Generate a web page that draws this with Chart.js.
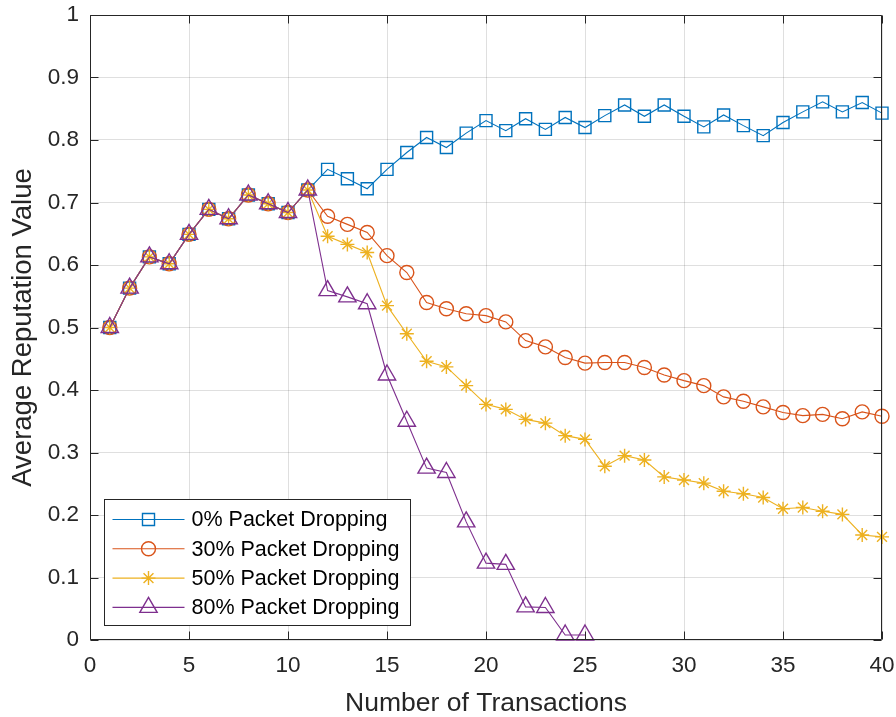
<!DOCTYPE html>
<html>
<head>
<meta charset="utf-8">
<script src="https://cdn.jsdelivr.net/npm/chart.js@4.4.1/dist/chart.umd.min.js"></script>
<style>
  html, body { margin: 0; padding: 0; background: #fff; }
  canvas { display: block; }
</style>
</head>
<body>
<canvas id="repChart" width="896" height="717"></canvas>
<script>
// Average reputation vs number of transactions, per packet dropping rate

let transactions = [];
for (let i = 1; i <= 40; i++) transactions.push(i);

let seriesNames = ["0% Packet Dropping", "30% Packet Dropping", "50% Packet Dropping", "80% Packet Dropping"];

let drop0 = [0.500, 0.563, 0.613, 0.602, 0.649, 0.689, 0.674, 0.712, 0.698, 0.684,
             0.720, 0.753, 0.738, 0.722, 0.753, 0.780, 0.804, 0.788, 0.811, 0.831,
             0.815, 0.834, 0.817, 0.836, 0.820, 0.839, 0.856, 0.838, 0.856, 0.838,
             0.821, 0.840, 0.823, 0.807, 0.828, 0.845, 0.861, 0.845, 0.860, 0.843];

let drop30 = [0.500, 0.563, 0.613, 0.602, 0.649, 0.689, 0.674, 0.712, 0.698, 0.684,
              0.720, 0.678, 0.665, 0.652, 0.615, 0.588, 0.540, 0.530, 0.522, 0.519,
              0.509, 0.479, 0.469, 0.452, 0.443, 0.444, 0.444, 0.436, 0.424, 0.415,
              0.407, 0.389, 0.382, 0.373, 0.364, 0.359, 0.361, 0.354, 0.365, 0.358];

let drop50 = [0.500, 0.563, 0.613, 0.602, 0.649, 0.689, 0.674, 0.712, 0.698, 0.684,
              0.720, 0.646, 0.633, 0.620, 0.535, 0.490, 0.446, 0.437, 0.407, 0.377,
              0.369, 0.353, 0.347, 0.327, 0.321, 0.278, 0.295, 0.288, 0.261, 0.256,
              0.251, 0.238, 0.234, 0.228, 0.210, 0.212, 0.206, 0.201, 0.168, 0.165];

let drop80 = [0.500, 0.563, 0.613, 0.602, 0.649, 0.689, 0.674, 0.712, 0.698, 0.684,
              0.720, 0.559, 0.549, 0.538, 0.424, 0.350, 0.275, 0.268, 0.189, 0.123,
              0.121, 0.053, 0.052, 0.008, 0.008];

let xTicks = [0, 5, 10, 15, 20, 25, 30, 35, 40];
let yTicks = [0, 0.1, 0.2, 0.3, 0.4, 0.5, 0.6, 0.7, 0.8, 0.9, 1];

// matlab default colour order
let colors = ["#0072BD", "#D95319", "#EDB120", "#7E2F8E"];
let markers = ["rect", "circle", "star", "triangle"];
let markerSizes = [8.5, 7, 7, 10];

const axisColor = "#262626";
const fontFam = "'Liberation Sans', Arial, Helvetica, sans-serif";

function toPoints(ys) {
    return ys.map((y, i) => ({ x: transactions[i], y: y }));
}

let allSeries = [drop0, drop30, drop50, drop80];

let datasets = allSeries.map((ys, i) => ({
    label: seriesNames[i],
    data: toPoints(ys),
    borderColor: colors[i],
    backgroundColor: "transparent",
    borderWidth: 1.1,
    pointStyle: markers[i],
    pointRadius: markerSizes[i],
    pointBorderWidth: 1.4,
    pointBorderColor: colors[i],
    pointBackgroundColor: "transparent",
    tension: 0,
    clip: false,
    order: 3 - i
}));

// box around the axes with inward ticks, and the legend inside the plot
const matlabAxes = {
    id: "matlabAxes",
    afterDraw(chart) {
        const ctx = chart.ctx;
        const a = chart.chartArea;
        const xs = chart.scales.x, ys = chart.scales.y;
        const L = Math.round(a.left) + 0.5, R = Math.round(a.right) - 0.5;
        const T = Math.round(a.top) + 0.5, B = Math.round(a.bottom) - 0.5;
        const tl = 8;
        ctx.save();
        ctx.strokeStyle = axisColor;
        ctx.lineWidth = 1;
        ctx.beginPath();
        ctx.rect(L, T, R - L, B - T);
        xTicks.forEach(v => {
            const px = Math.round(xs.getPixelForValue(v)) + 0.5;
            ctx.moveTo(px, B); ctx.lineTo(px, B - tl);
            ctx.moveTo(px, T); ctx.lineTo(px, T + tl);
        });
        yTicks.forEach(v => {
            const py = Math.round(ys.getPixelForValue(v)) + 0.5;
            ctx.moveTo(L, py); ctx.lineTo(L + tl, py);
            ctx.moveTo(R, py); ctx.lineTo(R - tl, py);
        });
        ctx.stroke();

        // legend
        const bx = L + 14, bw = 306, bh = 126;
        const by = B - 14 - bh;
        ctx.fillStyle = "#fff";
        ctx.fillRect(bx, by, bw, bh);
        ctx.strokeRect(bx, by, bw, bh);
        ctx.font = "21.5px " + fontFam;
        ctx.textBaseline = "middle";
        ctx.textAlign = "left";
        seriesNames.forEach((name, i) => {
            const ry = by + 20 + i * 29.3;
            ctx.strokeStyle = colors[i];
            ctx.lineWidth = 1.1;
            ctx.beginPath();
            ctx.moveTo(bx + 8, ry);
            ctx.lineTo(bx + 80, ry);
            ctx.stroke();
            ctx.lineWidth = 1.4;
            ctx.fillStyle = "rgba(0,0,0,0)";
            Chart.helpers.drawPoint(ctx, {
                pointStyle: markers[i],
                radius: markerSizes[i],
                rotation: 0,
                borderWidth: 1.4
            }, bx + 44, ry);
            ctx.fillStyle = "#000";
            ctx.fillText(name, bx + 87, ry + 1);
        });
        ctx.restore();
    }
};

let config = {
    type: "line",
    data: { datasets },
    options: {
        responsive: false,
        animation: false,
        devicePixelRatio: 1,
        layout: { padding: { left: 0, right: 14, top: 15, bottom: 0 } },
        plugins: {
            legend: { display: false },
            tooltip: { enabled: false }
        },
        scales: {
            x: {
                type: "linear",
                min: 0,
                max: 40,
                afterBuildTicks: s => { s.ticks = xTicks.map(v => ({ value: v })); },
                afterFit: s => {
                    s.height = 77;
                    s.paddingLeft = 0;
                    s.paddingRight = 0;
                },
                grid: { color: "rgba(38,38,38,0.15)", lineWidth: 1, drawTicks: false },
                border: { display: false },
                ticks: {
                    color: axisColor,
                    padding: 12,
                    font: { family: fontFam, size: 22.5 },
                    maxRotation: 0
                },
                title: {
                    display: true,
                    text: "Number of Transactions",
                    color: axisColor,
                    font: { family: fontFam, size: 26.5, lineHeight: 1.0 },
                    padding: { top: 0, bottom: 0 }
                }
            },
            y: {
                min: 0,
                max: 1,
                afterBuildTicks: s => { s.ticks = yTicks.map(v => ({ value: v })); },
                afterFit: s => {
                    s.width = 90;
                    s.paddingTop = 0;
                    s.paddingBottom = 0;
                },
                grid: { color: "rgba(38,38,38,0.15)", lineWidth: 1, drawTicks: false },
                border: { display: false },
                ticks: {
                    color: axisColor,
                    padding: 11,
                    font: { family: fontFam, size: 22.5 },
                    callback: v => String(Math.round(v * 10) / 10)
                },
                title: {
                    display: true,
                    text: "Average Reputation Value",
                    color: axisColor,
                    font: { family: fontFam, size: 27.5 },
                    padding: { top: 7, bottom: 0 }
                }
            }
        }
    },
    plugins: [matlabAxes]
};

const repChart = new Chart("repChart", config);
</script>
</body>
</html>
